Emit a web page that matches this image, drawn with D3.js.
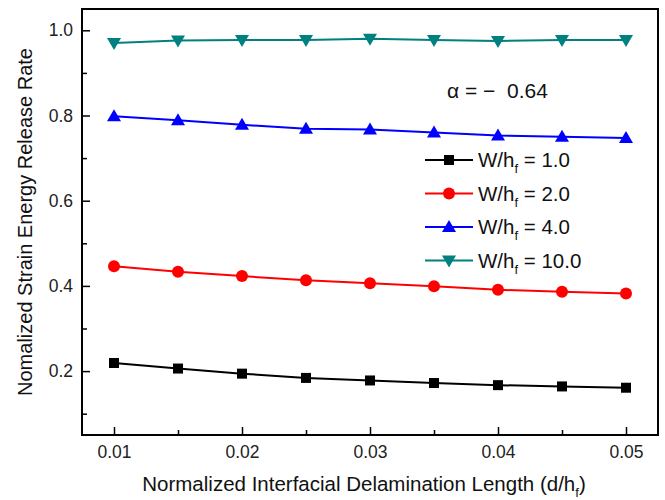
<!DOCTYPE html>
<html>
<head>
<meta charset="utf-8">
<script src="https://cdn.jsdelivr.net/npm/d3@7"></script>
<style>
  body { margin: 0; background: #fff; }
  text { font-family: Arial, "Liberation Sans", sans-serif; }
</style>
</head>
<body>
<div id="chart"></div>
<script>
var dLen = [0.01, 0.015, 0.02, 0.025, 0.03, 0.035, 0.04, 0.045, 0.05];
var ratios = ["1.0", "2.0", "4.0", "10.0"];
var w1 = [0.219, 0.206, 0.194, 0.184, 0.178, 0.172, 0.167, 0.164, 0.161];
var w2 = [0.446, 0.433, 0.423, 0.413, 0.406, 0.399, 0.391, 0.386, 0.382];
var w4 = [0.798, 0.789, 0.778, 0.769, 0.767, 0.760, 0.753, 0.750, 0.747];
var w10 = [0.970, 0.976, 0.977, 0.977, 0.980, 0.977, 0.975, 0.977, 0.977];
var xMajor = [0.01, 0.02, 0.03, 0.04, 0.05];
var yMajor = [0.2, 0.4, 0.6, 0.8, 1.0];
var yMinor = [0.1, 0.3, 0.5, 0.7, 0.9];

var colors = ["#000000", "#ff0000", "#0000ff", "#008080"];
var symbols = ["square", "circle", "up", "down"];
var seriesVals = [w1, w2, w4, w10];

var width = 665, height = 500;
var pLeft = 82, pRight = 658, pTop = 9, pBottom = 435;

var svg = d3.select("#chart").append("svg")
  .attr("width", width)
  .attr("height", height);

var x = d3.scaleLinear().domain([0.0075, 0.0525]).range([pLeft, pRight]);
var y = d3.scaleLinear().domain([0.05, 1.05]).range([pBottom, pTop]);

// ticks point inward
var xMinor = dLen.filter(function(v) { return xMajor.indexOf(v) < 0; });
var xAxis = d3.axisBottom(x).tickValues(xMajor).tickSize(-8).tickPadding(11)
  .tickFormat(d3.format(".2f"));
var xAxisMinor = d3.axisBottom(x).tickValues(xMinor).tickSize(-5).tickFormat("");
var yAxis = d3.axisLeft(y).tickValues(yMajor).tickSize(-8).tickPadding(9)
  .tickFormat(d3.format(".1f"));
var yAxisMinor = d3.axisLeft(y).tickValues(yMinor).tickSize(-5).tickFormat("");

function styleAxis(g) {
  g.select(".domain").remove();
  g.attr("font-family", null).attr("font-size", 17.5);
  g.selectAll(".tick line").attr("stroke", "#000").attr("stroke-width", 1.5);
  g.selectAll(".tick text").attr("fill", "#222");
}

svg.append("g").attr("transform", "translate(0," + pBottom + ")").call(xAxis).call(styleAxis);
svg.append("g").attr("transform", "translate(0," + pBottom + ")").call(xAxisMinor).call(styleAxis);
svg.append("g").attr("transform", "translate(" + pLeft + ",0)").call(yAxis).call(styleAxis);
svg.append("g").attr("transform", "translate(" + pLeft + ",0)").call(yAxisMinor).call(styleAxis);

svg.append("rect")
  .attr("x", pLeft).attr("y", pTop)
  .attr("width", pRight - pLeft).attr("height", pBottom - pTop)
  .attr("fill", "none").attr("stroke", "#000").attr("stroke-width", 2);

function marker(g, type, color, cx, cy) {
  if (type == "square") {
    g.append("rect").attr("x", cx - 5).attr("y", cy - 5).attr("width", 10).attr("height", 10).attr("fill", color);
  } else if (type == "circle") {
    g.append("circle").attr("cx", cx).attr("cy", cy).attr("r", 6).attr("fill", color);
  } else if (type == "up") {
    g.append("path").attr("d", "M" + cx + "," + (cy - 7) + " L" + (cx + 7) + "," + (cy + 5) + " L" + (cx - 7) + "," + (cy + 5) + " Z").attr("fill", color);
  } else {
    g.append("path").attr("d", "M" + cx + "," + (cy + 7) + " L" + (cx + 7) + "," + (cy - 5) + " L" + (cx - 7) + "," + (cy - 5) + " Z").attr("fill", color);
  }
}

var line = d3.line()
  .x(function(d, i) { return x(dLen[i]); })
  .y(function(d) { return y(d); });

seriesVals.forEach(function(vals, k) {
  var g = svg.append("g");
  g.append("path").attr("d", line(vals))
    .attr("fill", "none").attr("stroke", colors[k]).attr("stroke-width", 2);
  vals.forEach(function(v, i) {
    marker(g, symbols[k], colors[k], x(dLen[i]), y(v));
  });
});

// legend
var legend = svg.append("g");
ratios.forEach(function(r, k) {
  var ly = 160 + k * 33.5;
  legend.append("line").attr("x1", 425).attr("x2", 473).attr("y1", ly).attr("y2", ly)
    .attr("stroke", colors[k]).attr("stroke-width", 2);
  marker(legend, symbols[k], colors[k], 449, ly);
  var t = legend.append("text").attr("x", 478).attr("y", ly + 7)
    .attr("font-size", 20.5).attr("fill", "#111");
  t.append("tspan").text("W/h");
  t.append("tspan").attr("font-size", 13).attr("dy", 6).text("f");
  t.append("tspan").attr("dy", -6).text(" = " + r);
});

svg.append("text").attr("x", 447).attr("y", 98)
  .attr("font-size", 21).attr("fill", "#111")
  .style("white-space", "pre")
  .text("\u03b1 = \u2212  0.64");

// axis titles
svg.append("text")
  .attr("transform", "translate(32," + (pTop + pBottom) / 2 + ") rotate(-90)")
  .attr("text-anchor", "middle").attr("font-size", 20).attr("fill", "#111")
  .text("Nomalized Strain Energy Release Rate");

var xt = svg.append("text").attr("x", (pLeft + pRight) / 2 - 6).attr("y", 491)
  .attr("text-anchor", "middle").attr("font-size", 20.5).attr("fill", "#111");
xt.append("tspan").text("Normalized Interfacial Delamination Length (d/h");
xt.append("tspan").attr("font-size", 13).attr("dy", 6).text("f");
xt.append("tspan").attr("dy", -6).text(")");
</script>
</body>
</html>
